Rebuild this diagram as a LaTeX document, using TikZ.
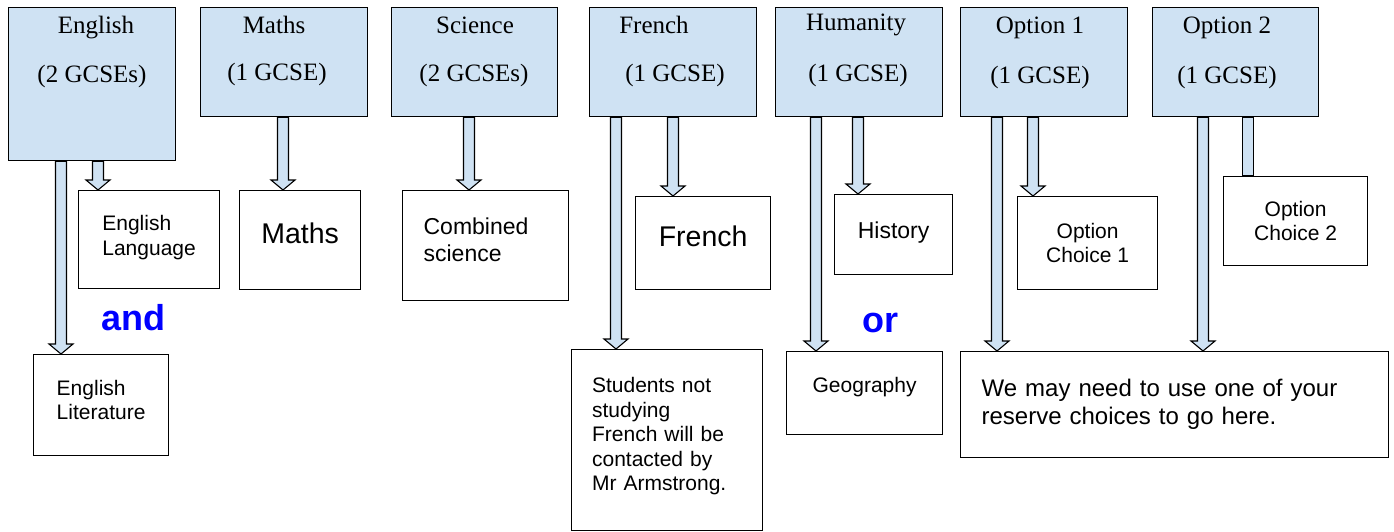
\documentclass[tikz,border=0pt]{standalone}
\usepackage{fontspec}
\setmainfont{Liberation Serif}
\setsansfont{Liberation Sans}
\usetikzlibrary{calc}

\definecolor{subjblue}{RGB}{207,226,243}
\definecolor{wordblue}{RGB}{0,0,255}

\tikzset{
  subject/.style={draw, fill=subjblue, line width=1.3pt, anchor=north west, inner sep=0pt},
  subjtext/.style={font=\fontsize{25}{30}\selectfont},
  choice/.style={draw, fill=white, line width=1.2pt, anchor=north west, inner sep=0pt,
    align=left, font=\sffamily\fontsize{21}{24.5}\selectfont},
  linkword/.style={text=wordblue, font=\sffamily\bfseries\fontsize{36}{40}\selectfont},
  flow/.style={draw, fill=subjblue, line width=1.1pt, line join=miter}
}

% block arrow straight down from box #2 to box #3 at x = #1
\newcommand{\flowdown}[3]{%
  \draw[flow] let \p1=(#2.south), \p2=(#3.north) in
    (#1pt-5.5pt,\y1) -- (#1pt-5.5pt,\y2+10pt) -- (#1pt-12pt,\y2+10pt) -- (#1pt,\y2)
    -- (#1pt+12pt,\y2+10pt) -- (#1pt+5.5pt,\y2+10pt) -- (#1pt+5.5pt,\y1) -- cycle;
}
% same, but only the shaft (head hidden under the box)
\newcommand{\flowbar}[3]{%
  \draw[flow] let \p1=(#2.south), \p2=(#3.north) in
    (#1pt-5.5pt,\y1) rectangle (#1pt+5.5pt,\y2);
}

\begin{document}
\begin{tikzpicture}[x=1pt,y=1pt]
\useasboundingbox (0,0) rectangle (1394,-531);

% subjects
\node[subject, minimum width=167, minimum height=153] (engS) at (8,-7) {};
\node[subject, minimum width=167, minimum height=109] (mathS) at (200,-7) {};
\node[subject, minimum width=166, minimum height=109] (sciS) at (391,-7) {};
\node[subject, minimum width=167, minimum height=109] (freS) at (589,-7) {};
\node[subject, minimum width=167, minimum height=109] (humS) at (775,-7) {};
\node[subject, minimum width=167, minimum height=109] (opt1S) at (960,-7) {};
\node[subject, minimum width=166, minimum height=109] (opt2S) at (1152,-7) {};

\node[subjtext] (engA) at (96,-28) {English};
\node[subjtext] (engB) at (92,-76) {(2 GCSEs)};
\node[subjtext] (mathA) at (274,-25) {Maths};
\node[subjtext] (mathB) at (277,-74) {(1 GCSE)};
\node[subjtext] (sciA) at (475,-25) {Science};
\node[subjtext] (sciB) at (474,-75) {(2 GCSEs)};
\node[subjtext] (freA) at (654,-25) {French};
\node[subjtext] (freB) at (675,-75) {(1 GCSE)};
\node[subjtext] (humA) at (856,-25) {Humanity};
\node[subjtext] (humB) at (858,-75) {(1 GCSE)};
\node[subjtext] (opt1A) at (1040,-28) {Option 1};
\node[subjtext] (opt1B) at (1040,-77) {(1 GCSE)};
\node[subjtext] (opt2A) at (1227,-28) {Option 2};
\node[subjtext] (opt2B) at (1227,-77) {(1 GCSE)};

% choices
\node[choice, minimum width=141, minimum height=98, text depth=8.9] (engLang) at (78,-190) {English\\Language};
\node[choice, minimum width=135, minimum height=101, text depth=10.5] (engLit) at (33,-354) {English\\Literature};
\node[choice, minimum width=121, minimum height=99, text depth=14, font=\sffamily\fontsize{28.5}{32}\selectfont] (maths) at (239,-190) {Maths};
\node[choice, minimum width=166, minimum height=110, text width=124, text depth=39, font=\sffamily\fontsize{23}{27}\selectfont] (combSci) at (402,-190) {Combined\\science};
\node[choice, minimum width=135, minimum height=93, text depth=14, font=\sffamily\fontsize{28.5}{32}\selectfont] (french) at (635,-196) {French};
\node[choice, minimum width=191, minimum height=181, text width=150, text depth=110.4] (students) at (571,-349) {Students not\\studying\\French will be\\contacted by\\Mr Armstrong.};
\node[choice, minimum width=118, minimum height=80, text depth=8.8, font=\sffamily\fontsize{23}{27}\selectfont] (history) at (834,-194) {History};
\node[choice, minimum width=156, minimum height=83, text depth=16.4] (geog) at (786,-351) {Geography};
\node[choice, minimum width=140, minimum height=93, align=center] (choice1) at (1017,-196) {Option\\Choice 1};
\node[choice, minimum width=144, minimum height=89, align=center] (choice2) at (1223,-176) {Option\\Choice 2};
\node[choice, minimum width=428, minimum height=106, text width=386, font=\sffamily\fontsize{24}{28}\selectfont] (reserve) at (960,-351) {We may need to use one of your\\reserve choices to go here.};

\node[linkword] (andW) at (133,-318) {and};
\node[linkword] (orW) at (880,-323) {or};

% arrows
\flowdown{98}{engS}{engLang}
\flowdown{61}{engS}{engLit}
\flowdown{283}{mathS}{maths}
\flowdown{469}{sciS}{combSci}
\flowdown{616}{freS}{students}
\flowdown{673}{freS}{french}
\flowdown{816}{humS}{geog}
\flowdown{858}{humS}{history}
\flowdown{997}{opt1S}{reserve}
\flowdown{1033}{opt1S}{choice1}
\flowdown{1203}{opt2S}{reserve}
\flowbar{1248}{opt2S}{choice2}

\end{tikzpicture}
\end{document}
